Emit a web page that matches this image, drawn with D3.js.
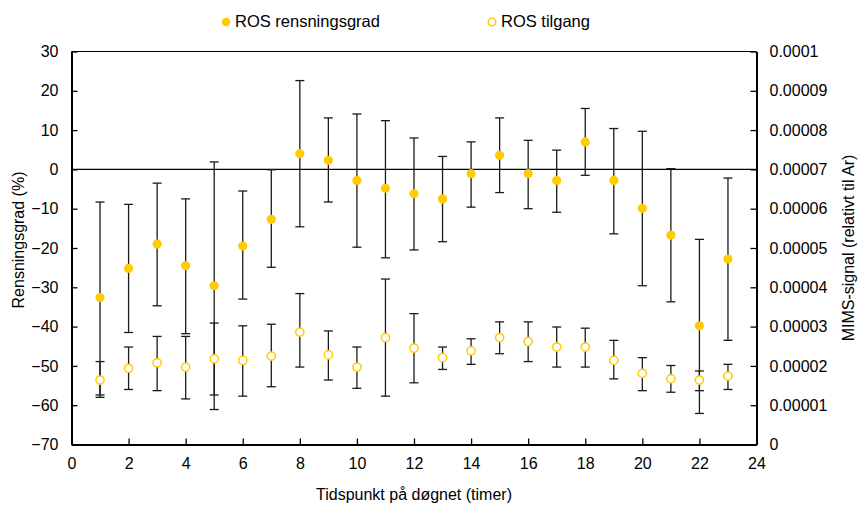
<!DOCTYPE html>
<html>
<head>
<meta charset="utf-8">
<script src="https://cdn.jsdelivr.net/npm/d3@7"></script>
<style>
  body { margin: 0; background: #fff; }
  svg { display: block; font-family: "Liberation Sans", Arial, sans-serif; }
</style>
</head>
<body>
<svg id="chart" width="860" height="507"></svg>
<script>
// hours of the day
const hours = [1, 2, 3, 4, 5, 6, 7, 8, 9, 10, 11, 12, 13, 14, 15, 16, 17, 18, 19, 20, 21, 22, 23];

// ROS rensningsgrad (%), left axis
const rensMean = [-32.6, -25.2, -19.0, -24.5, -29.6, -19.5, -12.7, 4.0, 2.3, -2.8, -4.8, -6.2, -7.5, -1.1, 3.6, -1.1, -2.8, 7.0, -2.8, -9.9, -16.7, -39.8, -22.8];
const rensHigh = [-8.3, -8.9, -3.5, -7.5, 1.9, -5.5, -0.1, 22.6, 13.1, 14.1, 12.4, 8.0, 3.3, 7.0, 13.1, 7.4, 4.9, 15.5, 10.4, 9.7, 0.2, -17.8, -2.2];
const rensLow = [-58.0, -41.5, -34.7, -41.8, -61.1, -33.0, -24.9, -14.6, -8.3, -19.8, -22.5, -20.5, -18.4, -9.6, -5.9, -10.0, -10.9, -1.5, -16.4, -29.6, -33.7, -62.1, -43.5];

// ROS tilgang (MIMS-signal), right axis
const tilgMean = [1.64e-5, 1.94e-5, 2.08e-5, 1.97e-5, 2.18e-5, 2.14e-5, 2.25e-5, 2.86e-5, 2.28e-5, 1.97e-5, 2.72e-5, 2.45e-5, 2.21e-5, 2.38e-5, 2.72e-5, 2.62e-5, 2.48e-5, 2.48e-5, 2.14e-5, 1.81e-5, 1.67e-5, 1.64e-5, 1.74e-5];
const tilgHigh = [2.11e-5, 2.48e-5, 2.75e-5, 2.75e-5, 3.09e-5, 3.02e-5, 3.06e-5, 3.84e-5, 2.89e-5, 2.48e-5, 4.21e-5, 3.33e-5, 2.48e-5, 2.69e-5, 3.12e-5, 3.12e-5, 2.99e-5, 2.96e-5, 2.65e-5, 2.21e-5, 2.01e-5, 1.87e-5, 2.04e-5];
const tilgLow = [1.26e-5, 1.40e-5, 1.37e-5, 1.16e-5, 1.26e-5, 1.23e-5, 1.47e-5, 1.97e-5, 1.64e-5, 1.43e-5, 1.23e-5, 1.57e-5, 1.91e-5, 2.04e-5, 2.31e-5, 2.11e-5, 1.97e-5, 1.97e-5, 1.67e-5, 1.37e-5, 1.33e-5, 1.37e-5, 1.40e-5];

// axis ticks
const xTicks = [0, 2, 4, 6, 8, 10, 12, 14, 16, 18, 20, 22, 24];
const leftTicks = [-70, -60, -50, -40, -30, -20, -10, 0, 10, 20, 30];
const rightTicks = [0, 1e-5, 2e-5, 3e-5, 4e-5, 5e-5, 6e-5, 7e-5, 8e-5, 9e-5, 1e-4];
const rightTickLabels = ["0", "0.00001", "0.00002", "0.00003", "0.00004", "0.00005", "0.00006", "0.00007", "0.00008", "0.00009", "0.0001"];

const yellow = '#ffcc00';
const svg = d3.select('#chart');
const plotLeft = 71.5, plotRight = 756.5, plotTop = 51.5, plotBottom = 444.5;

const x = d3.scaleLinear().domain([0, 24]).range([plotLeft, plotRight]);
const yL = d3.scaleLinear().domain([-70, 30]).range([plotBottom, plotTop]);
const yR = d3.scaleLinear().domain([0, 1e-4]).range([plotBottom, plotTop]);

// top frame line + zero line
svg.append('line').attr('x1', plotLeft).attr('x2', plotRight).attr('y1', plotTop).attr('y2', plotTop)
    .attr('stroke', '#000').attr('stroke-width', 1);
svg.append('line').attr('x1', plotLeft).attr('x2', plotRight).attr('y1', yL(0)).attr('y2', yL(0))
    .attr('stroke', '#000').attr('stroke-width', 1.3);

function styleAxis(g) {
    g.selectAll('.domain').attr('stroke', '#000').attr('stroke-width', 2);
    g.selectAll('.tick line').attr('stroke', '#000').attr('stroke-width', 1.3);
    g.selectAll('.tick text').attr('fill', '#000').style('font-size', '16px')
        .style('font-family', '"Liberation Sans", Arial, sans-serif');
}

svg.append('g').attr('transform', `translate(0,${plotBottom})`)
    .call(d3.axisBottom(x).tickValues(xTicks).tickSizeInner(-6).tickSizeOuter(0).tickPadding(13))
    .call(styleAxis);

svg.append('g').attr('transform', `translate(${plotLeft},0)`)
    .call(d3.axisLeft(yL).tickValues(leftTicks).tickSizeInner(-6).tickSizeOuter(0).tickPadding(13))
    .call(styleAxis);

svg.append('g').attr('transform', `translate(${plotRight},0)`)
    .call(d3.axisRight(yR).tickValues(rightTicks).tickFormat((d, i) => rightTickLabels[i])
        .tickSizeInner(-6).tickSizeOuter(0).tickPadding(13))
    .call(styleAxis);

// error bars
function errorBars(cls, yScale, lows, highs) {
    const g = svg.append('g').attr('class', cls)
        .attr('stroke', '#1a1a1a').attr('stroke-width', 1.3);
    hours.forEach((h, i) => {
        const cx = x(h);
        g.append('line').attr('x1', cx).attr('x2', cx)
            .attr('y1', yScale(lows[i])).attr('y2', yScale(highs[i]));
        [lows[i], highs[i]].forEach(v => {
            g.append('line').attr('x1', cx - 4.5).attr('x2', cx + 4.5)
                .attr('y1', yScale(v)).attr('y2', yScale(v));
        });
    });
}
errorBars('rens-err', yL, rensLow, rensHigh);
errorBars('tilg-err', yR, tilgLow, tilgHigh);

// markers
svg.append('g').selectAll('circle').data(hours).join('circle')
    .attr('cx', d => x(d)).attr('cy', (d, i) => yL(rensMean[i]))
    .attr('r', 4.6).attr('fill', yellow);

svg.append('g').selectAll('circle').data(hours).join('circle')
    .attr('cx', d => x(d)).attr('cy', (d, i) => yR(tilgMean[i]))
    .attr('r', 4.1).attr('fill', '#fff').attr('stroke', yellow).attr('stroke-width', 1.5);

// axis titles
svg.append('text').attr('x', (plotLeft + plotRight) / 2).attr('y', 500)
    .attr('text-anchor', 'middle').style('font-size', '16px')
    .text('Tidspunkt på døgnet (timer)');

svg.append('text').attr('transform', `translate(24,${(plotTop + plotBottom) / 2 - 8}) rotate(-90)`)
    .attr('text-anchor', 'middle').style('font-size', '16px')
    .text('Rensningsgrad (%)');

svg.append('text').attr('transform', `translate(854,${(plotTop + plotBottom) / 2}) rotate(-90)`)
    .attr('text-anchor', 'middle').style('font-size', '16px')
    .text('MIMS-signal (relativt til Ar)');

// legend
const legend = svg.append('g').style('font-size', '16.5px');
legend.append('circle').attr('cx', 226).attr('cy', 22).attr('r', 4.3).attr('fill', yellow);
legend.append('text').attr('x', 235).attr('y', 27).text('ROS rensningsgrad');
legend.append('circle').attr('cx', 492).attr('cy', 22).attr('r', 3.8)
    .attr('fill', '#fff').attr('stroke', yellow).attr('stroke-width', 1.5);
legend.append('text').attr('x', 501).attr('y', 27).text('ROS tilgang');
</script>
</body>
</html>
